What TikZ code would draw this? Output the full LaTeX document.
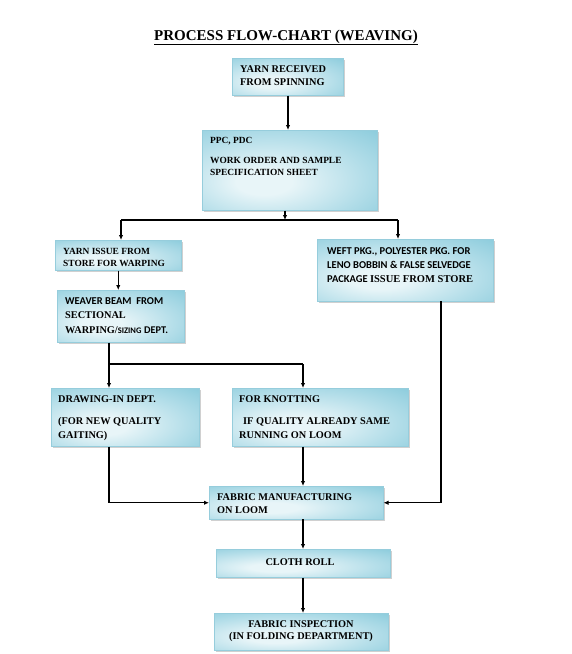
\documentclass[tikz,border=0pt]{standalone}
\usepackage{fontspec}
\setmainfont{Liberation Serif}
\newfontfamily\calfont{Carlito}
\usetikzlibrary{arrows.meta,shadows}
\definecolor{boxin}{RGB}{232,245,248}
\definecolor{boxmid}{RGB}{180,222,233}
\definecolor{boxout}{RGB}{136,202,219}
\definecolor{boxedge}{RGB}{150,205,220}
\pgfdeclareradialshading{boxshade}{\pgfpoint{-8bp}{-8bp}}{color(0bp)=(boxin); color(8bp)=(boxin); color(27bp)=(boxmid); color(44bp)=(boxout); color(100bp)=(boxout)}
\begin{document}
\begin{tikzpicture}[x=1pt,y=-1pt,
  box/.style={draw=boxedge, line width=0.5pt, shading=boxshade,
    anchor=north west, inner sep=0pt,
    drop shadow={shadow xshift=1.5pt, shadow yshift=-1.5pt, fill=black!30, opacity=0.6}},
  tl/.style={anchor=base west, inner sep=0pt, font=\bfseries\fontsize{10.3}{12}\selectfont},
  ts/.style={anchor=base west, inner sep=0pt, font=\bfseries\fontsize{9.4}{12}\selectfont},
  tc/.style={anchor=base west, inner sep=0pt, font=\bfseries\calfont\fontsize{10.5}{12}\selectfont},
  tm/.style={anchor=base, inner sep=0pt, font=\bfseries\fontsize{10.3}{12}\selectfont},
  ln/.style={line width=1.2pt},
  arr/.style={line width=1.2pt, -{Latex[length=5pt,width=4.5pt]}}]
\useasboundingbox (0,0) rectangle (572,654);
\fill[white] (0,0) rectangle (572,654);
\node[anchor=base, font=\bfseries\fontsize{15}{17}\selectfont, inner sep=0pt] (title) at (286,40) {\underline{PROCESS FLOW-CHART (WEAVING)}};
% boxes
\node[box, minimum width=111pt, minimum height=37pt] (b1) at (232,58) {};
\node[box, minimum width=175pt, minimum height=80pt] (b2) at (202,130) {};
\node[box, minimum width=126pt, minimum height=30pt] (b3) at (55,240) {};
\node[box, minimum width=176pt, minimum height=62pt] (b4) at (317,239) {};
\node[box, minimum width=127pt, minimum height=52pt] (b5) at (57,290) {};
\node[box, minimum width=148pt, minimum height=58pt] (b6) at (51,388) {};
\node[box, minimum width=176pt, minimum height=58pt] (b7) at (232,388) {};
\node[box, minimum width=174pt, minimum height=33pt] (b8) at (209,486) {};
\node[box, minimum width=174pt, minimum height=28pt] (b9) at (216,549) {};
\node[box, minimum width=174pt, minimum height=37pt] (b10) at (214,613) {};
% texts
\node[tl] (t1a) at (240,72) {YARN RECEIVED};
\node[tl] (t1b) at (240,85) {FROM SPINNING};
\node[ts] (t2a) at (210,143) {PPC, PDC};
\node[ts] (t2b) at (210,163) {WORK ORDER AND SAMPLE};
\node[ts] (t2c) at (210,175) {SPECIFICATION SHEET};
\node[ts] (t3a) at (63,254) {YARN ISSUE FROM};
\node[ts] (t3b) at (63,266) {STORE FOR WARPING};
\node[tc] (t4a) at (327,254) {WEFT PKG., POLYESTER PKG. FOR};
\node[tc] (t4b) at (327,268) {LENO BOBBIN \& FALSE SELVEDGE};
\node[tc] (t4c) at (327,282) {PACKAGE {\rmfamily ISSUE FROM STORE}};
\node[tc] (t5a) at (65,304) {WEAVER BEAM~ FROM};
\node[tl] (t5b) at (65,318) {SECTIONAL};
\node[tl] (t5c) at (65,333) {WARPING/{\calfont\fontsize{8.5}{12}\selectfont SIZING} {\calfont DEPT.}};
\node[tl] (t6a) at (58,402) {DRAWING-IN DEPT.};
\node[tl] (t6b) at (58,424) {(FOR NEW QUALITY};
\node[tl] (t6c) at (58,438) {GAITING)};
\node[tl] (t7a) at (239,402) {FOR KNOTTING};
\node[tl] (t7b) at (243,424) {IF QUALITY ALREADY SAME};
\node[tl] (t7c) at (239,438) {RUNNING ON LOOM};
\node[tl] (t8a) at (217,500) {FABRIC MANUFACTURING};
\node[tl] (t8b) at (217,513) {ON LOOM};
\node[tm] (t9) at (300,565) {CLOTH ROLL};
\node[tm] (t10a) at (301,627) {FABRIC INSPECTION};
\node[tm] (t10b) at (301,639) {(IN FOLDING DEPARTMENT)};
% connectors
\coordinate (j0) at (285,220);
\coordinate (jl) at (121,220);
\coordinate (jr) at (398,220);
\coordinate (j2) at (109,364);
\coordinate (j3) at (303,364);
\coordinate (r4) at (441,301);
\coordinate (c8) at (303,519);
\draw[arr] (b1.south -| 288,0) -- (b2.north -| 288,0);
\draw[arr] (b2.south -| j0) -- (j0);
\draw[ln] (jl) -- (jr);
\draw[arr] (jl) -- (jl |- b3.north);
\draw[arr] (jr) -- (jr |- b4.north);
\draw[arr] (b3.south) -- (b3.south |- b5.north);
\draw[ln] (b5.south -| j2) -- (j2) -- (j3);
\draw[arr] (j2) -- (j2 |- b6.north);
\draw[arr] (j3) -- (j3 |- b7.north);
\draw[arr] (b6.south -| j2) |- (b8.west);
\draw[arr] (b7.south -| j3) -- (j3 |- b8.north);
\draw[arr] (r4) |- (b8.east);
\draw[arr] (c8) -- (c8 |- b9.north);
\draw[arr] (c8 |- b9.south) -- (c8 |- b10.north);
\end{tikzpicture}
\end{document}
